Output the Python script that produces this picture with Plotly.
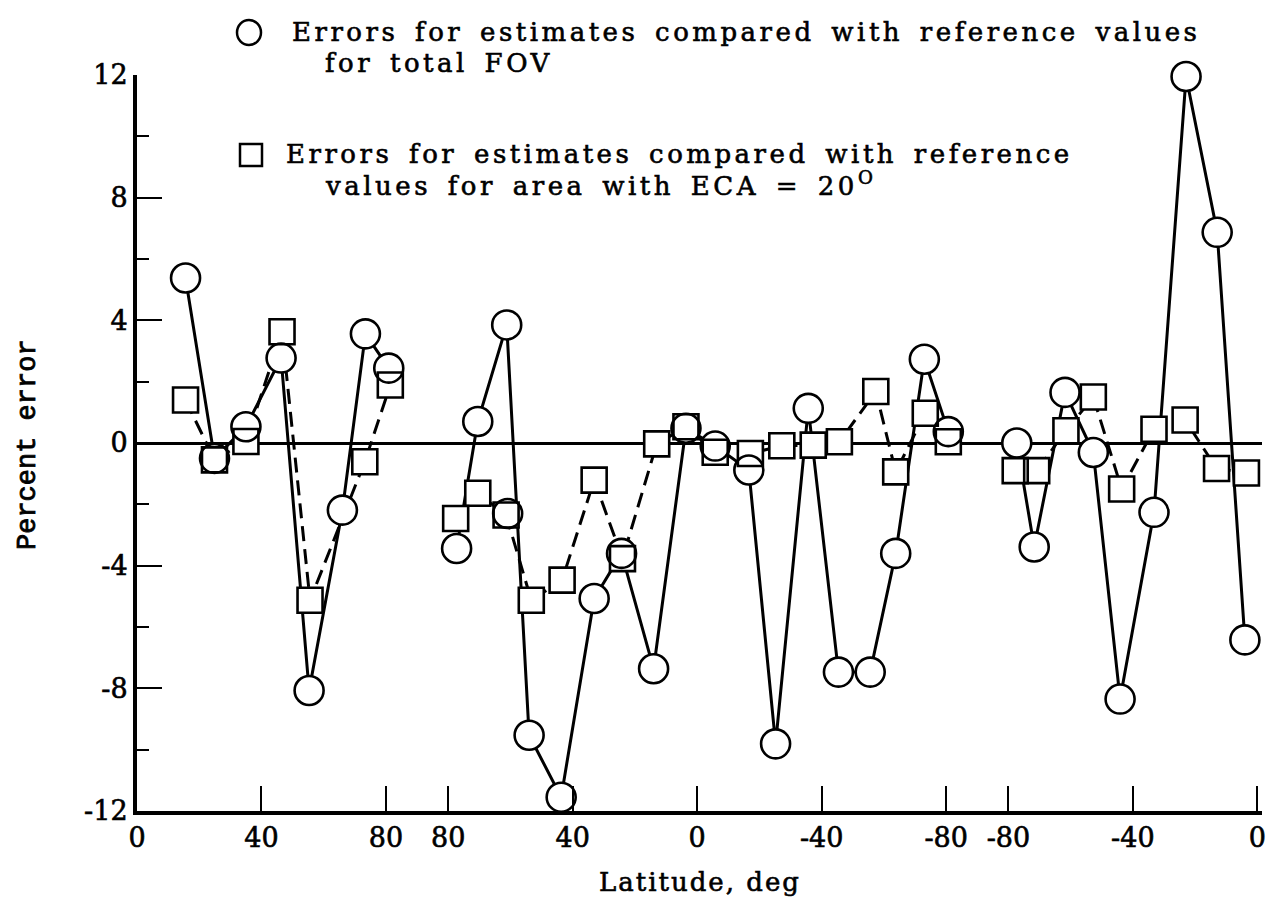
import plotly.graph_objects as go

# ---------------- data ----------------
# segment 1: 0 -> 80 deg, segment 2: 80 -> -80 deg, segment 3: -80 -> 0 deg
circ_seg1_lat = [15.6, 24.9, 35.0, 46.3, 55.3, 66.0, 73.4, 80.9]
circ_seg1_err = [5.38, -0.50, 0.53, 2.77, -8.07, -2.19, 3.56, 2.44]
circ_seg2_lat = [77.3, 70.5, 61.2, 54.0, 43.7, 33.1, 24.3, 14.0, 3.6, -5.8,
                 -16.6, -25.2, -35.7, -45.4, -55.6, -63.8, -73.0, -80.7]
circ_seg2_err = [-3.44, 0.70, 3.85, -9.53, -11.55, -5.07, -3.60, -7.36, 0.48, -0.10,
                 -0.88, -9.81, 1.13, -7.47, -7.47, -3.60, 2.73, 0.37]
circ_seg3_lat = [-77.3, -71.7, -61.8, -52.7, -44.1, -33.2, -22.9, -12.9, -4.0]
circ_seg3_err = [0.00, -3.39, 1.65, -0.31, -8.35, -2.26, 11.95, 6.87, -6.42]
# isolated circle (segment 2) not joined by the line
circ_extra_lat = [60.9]
circ_extra_err = [-2.30]

sq_seg1_lat = [15.6, 24.9, 35.0, 46.6, 55.6, 73.2, 81.4]
sq_seg1_err = [1.40, -0.55, 0.05, 3.63, -5.13, -0.61, 1.89]
sq_seg2_lat = [77.6, 70.5, 61.4, 53.3, 43.4, 33.1, 24.0, 13.0, 3.6, -5.8,
               -17.1, -27.2, -37.3, -45.7, -57.4, -63.8, -73.3, -80.7]
sq_seg2_err = [-2.46, -1.64, -2.35, -5.13, -4.47, -1.21, -3.77, -0.03, 0.53, -0.30,
               -0.34, -0.09, -0.07, 0.04, 1.68, -0.94, 0.97, 0.04]
sq_seg3_lat = [-77.8, -70.9, -61.5, -52.7, -43.6, -33.2, -23.2, -13.1, -3.5]
sq_seg3_err = [-0.90, -0.90, 0.40, 1.50, -1.50, 0.45, 0.75, -0.83, -0.98]

tick_seg = [1, 1, 1, 2, 2, 2, 2, 2, 3, 3, 3]
tick_lat = [0, 40, 80, 80, 40, 0, -40, -80, -80, -40, 0]
tick_text = ["0", "40", "80", "80", "40", "0", "-40", "-80", "-80", "-40", "0"]
y_ticks = [-12, -8, -4, 0, 4, 8, 12]
y_ticktext = ["-12", "-8", "-4", "0", "4", "8", "12"]
y_minor = [-10, -6, -2, 2, 6, 10]


# track position along the orbit (deg) for a latitude in a given segment
def track(seg, lat):
    if seg == 1:
        return lat
    if seg == 2:
        return 180 - lat
    return 360 + lat


def build(segs):
    xs, ys = [], []
    for seg, lats, errs in segs:
        xs += [track(seg, a) for a in lats] + [None]
        ys += list(errs) + [None]
    return xs, ys


circ_x, circ_y = build([(1, circ_seg1_lat, circ_seg1_err),
                        (2, circ_seg2_lat, circ_seg2_err),
                        (3, circ_seg3_lat, circ_seg3_err)])
sq_x, sq_y = build([(1, sq_seg1_lat, sq_seg1_err),
                    (2, sq_seg2_lat, sq_seg2_err),
                    (3, sq_seg3_lat, sq_seg3_err)])
cm_x = [v for v in circ_x if v is not None] + [track(2, a) for a in circ_extra_lat]
cm_y = [v for v in circ_y if v is not None] + circ_extra_err
sm_x = [v for v in sq_x if v is not None]
sm_y = [v for v in sq_y if v is not None]

fig = go.Figure()
# lines
fig.add_trace(go.Scatter(x=sq_x, y=sq_y, mode="lines", cliponaxis=False,
                         line=dict(color="black", width=3, dash="15px,8px")))
fig.add_trace(go.Scatter(x=circ_x, y=circ_y, mode="lines", cliponaxis=False,
                         line=dict(color="black", width=3)))
# white masks so lines stop at the symbol edges
fig.add_trace(go.Scatter(x=sm_x, y=sm_y, mode="markers", cliponaxis=False,
                         marker=dict(symbol="square", size=25, color="white",
                                     line=dict(width=0))))
fig.add_trace(go.Scatter(x=cm_x, y=cm_y, mode="markers", cliponaxis=False,
                         marker=dict(symbol="circle", size=29, color="white",
                                     line=dict(width=0))))
# outlines
fig.add_trace(go.Scatter(x=sm_x, y=sm_y, mode="markers", cliponaxis=False,
                         marker=dict(symbol="square-open", size=25, color="black",
                                     line=dict(width=2.6, color="black"))))
fig.add_trace(go.Scatter(x=cm_x, y=cm_y, mode="markers", cliponaxis=False,
                         marker=dict(symbol="circle-open", size=29, color="black",
                                     line=dict(width=2.6, color="black"))))

L, R, T, B = 137, 6, 75, 91
W, H = 1268, 902
PW, PH = W - L - R, H - T - B


def px(x):
    return (x - L) / PW


def py(y):
    return (H - B - y) / PH


serif = "DejaVu Serif"
heavy = "stroke:black;stroke-width:0.6px"
spaced = "letter-spacing:3.5px;word-spacing:5px;" + heavy


def bold(s):
    return f'<span style="{heavy}">{s}</span>'


annotations = [
    dict(text=f'<span style="{spaced}">Errors for estimates compared with reference values</span>',
         x=px(290), y=py(32)),
    dict(text=f'<span style="{spaced}">for total FOV</span>', x=px(323), y=py(63)),
    dict(text=f'<span style="{spaced}">Errors for estimates compared with reference</span>',
         x=px(284), y=py(154)),
    dict(text=f'<span style="{spaced}">values for area with ECA = 20<sup>O</sup></span>',
         x=px(323), y=py(184)),
]
for a in annotations:
    a.update(xref="paper", yref="paper", xanchor="left", yanchor="middle",
             showarrow=False, font=dict(family=serif, size=26, color="black"))

annotations.append(dict(text=f'<span style="letter-spacing:2px;{heavy}">Latitude, deg</span>',
                        x=px(700), y=py(882), xref="paper", yref="paper",
                        xanchor="center", yanchor="middle", showarrow=False,
                        font=dict(family=serif, size=26, color="black")))
annotations.append(dict(text=f'<span style="stroke:black;stroke-width:0.8px">Percent error</span>',
                        textangle=-90,
                        x=px(28), y=py(445), xref="paper", yref="paper",
                        xanchor="center", yanchor="middle", showarrow=False,
                        font=dict(family="Liberation Mono", size=27, color="black")))

shapes = [
    dict(type="circle", xref="paper", yref="paper",
         x0=px(237), x1=px(261), y0=py(45), y1=py(20),
         line=dict(color="black", width=2.5)),
    dict(type="rect", xref="paper", yref="paper",
         x0=px(240), x1=px(262), y0=py(166), y1=py(144),
         line=dict(color="black", width=2.5)),
]

fig.update_layout(
    width=W, height=H,
    margin=dict(l=L, r=R, t=T, b=B, autoexpand=False),
    paper_bgcolor="white", plot_bgcolor="white",
    showlegend=False,
    annotations=annotations, shapes=shapes,
    xaxis=dict(range=[0, 361.5], showgrid=False, zeroline=False,
               showline=True, linewidth=4, linecolor="black",
               ticks="inside", ticklen=25, tickwidth=2, tickcolor="black",
               tickmode="array",
               tickvals=[track(s, a) for s, a in zip(tick_seg, tick_lat)],
               ticktext=[bold(t) for t in tick_text],
               tickfont=dict(family=serif, size=27, color="black")),
    yaxis=dict(range=[-12, 12], showgrid=False,
               zeroline=True, zerolinewidth=3, zerolinecolor="black",
               showline=True, linewidth=4, linecolor="black",
               ticks="inside", ticklen=25, tickwidth=2, tickcolor="black",
               tickmode="array", tickvals=y_ticks,
               ticktext=[bold(t) for t in y_ticktext],
               tickfont=dict(family=serif, size=27, color="black"),
               minor=dict(tickmode="array", tickvals=y_minor, ticks="inside",
                          ticklen=12, tickwidth=2, tickcolor="black",
                          showgrid=False)),
)

fig.write_html("out.html")
